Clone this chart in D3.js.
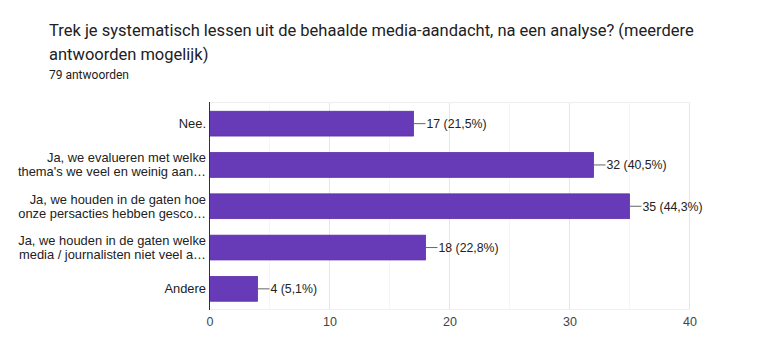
<!DOCTYPE html>
<html><head><meta charset="utf-8">
<script src="https://cdn.jsdelivr.net/npm/d3@7"></script>
<style>
body{margin:0;background:#fff;}
svg{display:block;}
</style></head>
<body>
<svg id="c" width="772" height="358"></svg>
<script>
const titleLines = ["Trek je systematisch lessen uit de behaalde media-aandacht, na een analyse? (meerdere", "antwoorden mogelijk)"];
const subtitle = "79 antwoorden";
const categories = [
  ["Nee."],
  ["Ja, we evalueren met welke", "thema's we veel en weinig aan…"],
  ["Ja, we houden in de gaten hoe", "onze persacties hebben gesco…"],
  ["Ja, we houden in de gaten welke", "media / journalisten niet veel a…"],
  ["Andere"]
];
const counts = [17, 32, 35, 18, 4];
const percents = ["21,5%", "40,5%", "44,3%", "22,8%", "5,1%"];
const xTicks = [0, 10, 20, 30, 40];
const xMinor = [5, 15, 25, 35];

const svg = d3.select("#c");
const x = d3.scaleLinear().domain([0, 40]).range([209.5, 689.5]);
const y = d3.scaleBand().domain(d3.range(categories.length)).range([103, 309.5]).paddingInner(0.4).paddingOuter(0.2);

// title
svg.append("text").attr("x", 49).attr("y", 36).attr("font-family", "Roboto").attr("font-size", 16.5).attr("fill", "#202124")
  .selectAll("tspan").data(titleLines).join("tspan").attr("x", 49).attr("dy", (d, i) => i ? 24 : 0).text(d => d);
svg.append("text").attr("x", 49).attr("y", 79).attr("font-family", "Roboto").attr("font-size", 12).attr("fill", "#202124").text(subtitle);

// grid
const g = svg.append("g");
g.selectAll(".minor").data(xMinor).join("line").attr("x1", d => x(d)).attr("x2", d => x(d)).attr("y1", 102).attr("y2", 309.5).attr("stroke", "#f6f6f6");
g.selectAll(".major").data(xTicks.slice(1)).join("line").attr("x1", d => x(d)).attr("x2", d => x(d)).attr("y1", 102).attr("y2", 309.5).attr("stroke", "#e6e6e6");
g.append("line").attr("x1", x(0)).attr("x2", x(40)).attr("y1", 102.5).attr("y2", 102.5).attr("stroke", "#efefef");
g.append("line").attr("x1", x(0)).attr("x2", x(40)).attr("y1", 309.5).attr("y2", 309.5).attr("stroke", "#efefef");

// bars
svg.selectAll(".bar").data(counts).join("rect")
  .attr("x", x(0)).attr("y", (d, i) => y(i)).attr("width", d => x(d) - x(0)).attr("height", y.bandwidth())
  .attr("fill", "#673ab7").attr("stroke", "#5b2fa6").attr("stroke-width", 0.8);

// leader lines + value labels
svg.selectAll(".lead").data(counts).join("line")
  .attr("x1", d => x(d)).attr("x2", d => x(d) + 12).attr("y1", (d, i) => y(i) + y.bandwidth() / 2).attr("y2", (d, i) => y(i) + y.bandwidth() / 2)
  .attr("stroke", "#666").attr("stroke-width", 1);
svg.selectAll(".val").data(counts).join("text")
  .attr("x", d => x(d) + 13).attr("y", (d, i) => y(i) + y.bandwidth() / 2).attr("dy", "0.35em")
  .attr("font-family", "Liberation Sans, Arial").attr("font-size", 12.3).attr("fill", "#222")
  .text((d, i) => `${d} (${percents[i]})`);

// category labels
const cl = svg.selectAll(".cat").data(categories).join("text")
  .attr("text-anchor", "end").attr("font-family", "Liberation Sans, Arial").attr("font-size", 12.9).attr("fill", "#222");
cl.each(function(lines, i) {
  const cy = y(i) + y.bandwidth() / 2;
  const n = lines.length;
  d3.select(this).selectAll("tspan").data(lines).join("tspan")
    .attr("x", 206).attr("y", (d, j) => cy + (j - (n - 1) / 2) * 14).attr("dy", "0.35em").text(d => d);
});

// x axis
const ax = svg.append("g").attr("transform", "translate(0,309.5)")
  .call(d3.axisBottom(x).tickValues(xTicks).tickSize(0).tickPadding(8));
ax.select(".domain").remove();
ax.selectAll("text").attr("font-family", "Liberation Sans, Arial").attr("font-size", 12.5).attr("fill", "#444");

// y axis line
svg.append("line").attr("x1", x(0)).attr("x2", x(0)).attr("y1", 102).attr("y2", 310).attr("stroke", "#333").attr("stroke-width", 1);
</script>
</body></html>
